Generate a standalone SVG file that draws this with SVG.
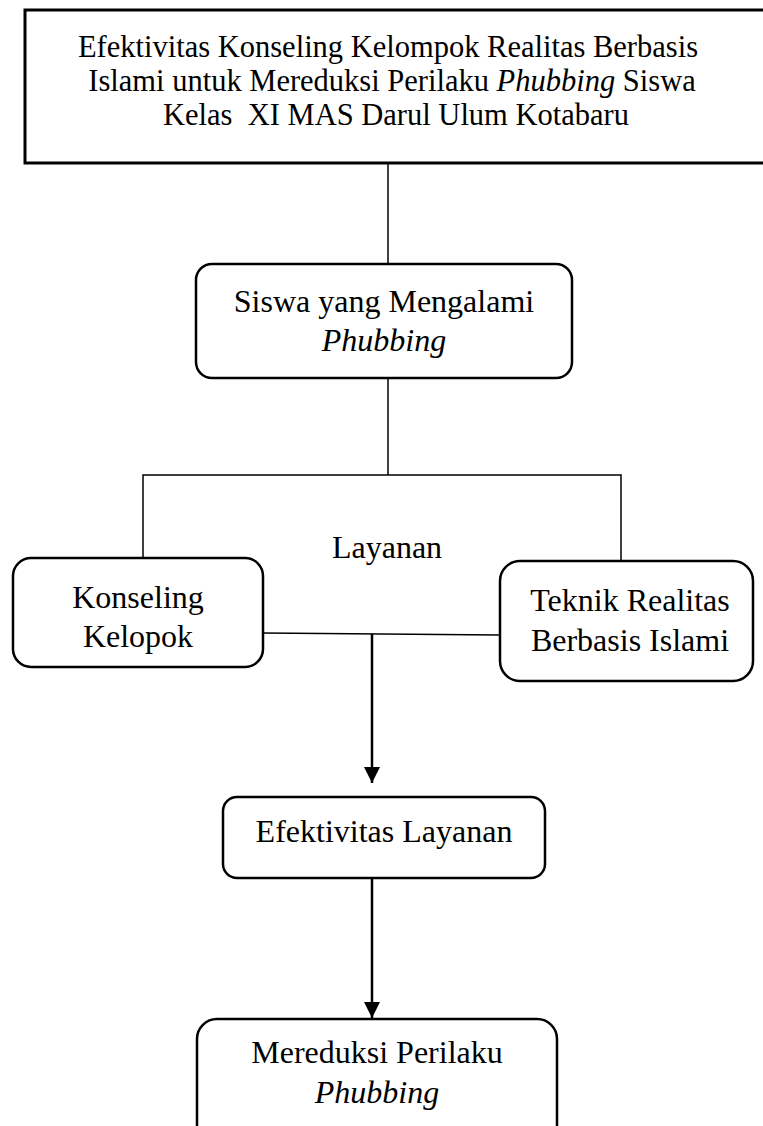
<svg xmlns="http://www.w3.org/2000/svg" width="763" height="1126" viewBox="0 0 763 1126">
<style>
.t{font-family:"Liberation Serif","Times New Roman",serif;font-size:32px;fill:#000;text-anchor:middle}
.h{font-size:30.5px}
.i{font-style:italic}
.box{fill:#fff;stroke:#000;stroke-width:2.5}
.ln{fill:none;stroke:#000;stroke-width:1.5}
.ar{fill:none;stroke:#000;stroke-width:2.5}
</style>
<defs>
<marker id="arr" markerUnits="userSpaceOnUse" markerWidth="18" markerHeight="16" refX="16" refY="8" orient="auto">
<path d="M0,0 L16,8 L0,16 Z" fill="#000"/>
</marker>
</defs>
<rect width="763" height="1126" fill="#fff"/>
<g id="connectors">
<line class="ln" x1="388" y1="164" x2="388" y2="264"/>
<line class="ln" x1="388" y1="378" x2="388" y2="475"/>
<polyline class="ln" points="143,558 143,475 621,475 621,561"/>
<line class="ln" x1="263" y1="633" x2="500" y2="635"/>
<line class="ar" x1="372" y1="634" x2="372" y2="783" marker-end="url(#arr)"/>
<line class="ar" x1="372" y1="878" x2="372" y2="1018" marker-end="url(#arr)"/>
</g>
<g id="title">
<rect x="25" y="10" width="760" height="153" fill="#fff" stroke="#000" stroke-width="3"/>
<text class="t h" x="388" y="57">Efektivitas Konseling Kelompok Realitas Berbasis</text>
<text class="t h" x="392" y="91">Islami untuk Mereduksi Perilaku <tspan class="i">Phubbing</tspan> Siswa</text>
<text class="t h" x="396" y="125" xml:space="preserve">Kelas  XI MAS Darul Ulum Kotabaru</text>
</g>
<g id="siswa">
<rect class="box" x="196" y="264" width="376" height="114" rx="16"/>
<text class="t" x="384" y="312">Siswa yang Mengalami</text>
<text class="t i" x="384" y="351">Phubbing</text>
</g>
<g id="layanan">
<text class="t" x="387" y="558">Layanan</text>
</g>
<g id="konseling">
<rect class="box" x="13" y="558" width="250" height="109" rx="18"/>
<text class="t" x="138" y="608">Konseling</text>
<text class="t" x="138" y="647">Kelopok</text>
</g>
<g id="teknik">
<rect class="box" x="500" y="561" width="253" height="120" rx="20"/>
<text class="t" x="630" y="611">Teknik Realitas</text>
<text class="t" x="630" y="651">Berbasis Islami</text>
</g>
<g id="efektivitas">
<rect class="box" x="223" y="797" width="322" height="81" rx="14"/>
<text class="t" x="384" y="842">Efektivitas Layanan</text>
</g>
<g id="mereduksi">
<rect class="box" x="197" y="1019" width="360" height="130" rx="20"/>
<text class="t" x="377" y="1063">Mereduksi Perilaku</text>
<text class="t i" x="377" y="1103">Phubbing</text>
</g>
</svg>
